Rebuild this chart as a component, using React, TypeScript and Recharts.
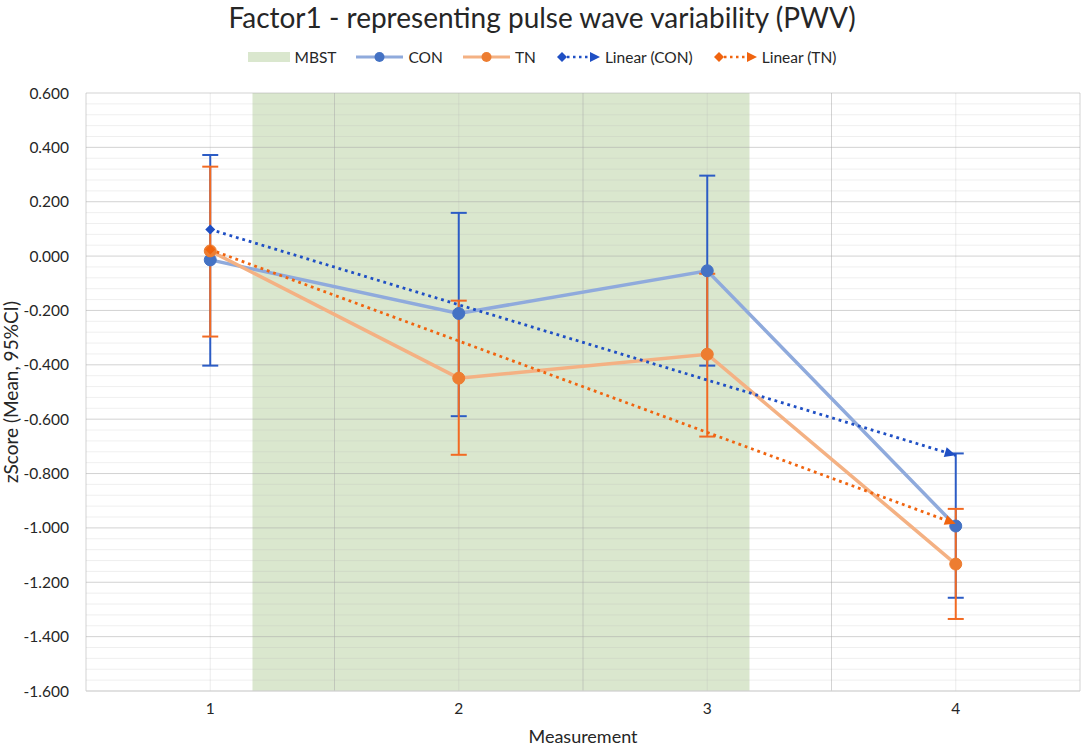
import React from "react";
import {
  LineChart,
  Line,
  XAxis,
  YAxis,
  ErrorBar,
  ReferenceArea,
  ReferenceLine,
} from "recharts";

// values
const measurements = [1, 2, 3, 4];
const conMean = [-0.014, -0.211, -0.054, -0.993];
const conLow = [-0.403, -0.589, -0.403, -1.257];
const conHigh = [0.372, 0.159, 0.296, -0.726];
const tnMean = [0.019, -0.449, -0.361, -1.133];
const tnLow = [-0.296, -0.731, -0.664, -1.335];
const tnHigh = [0.329, -0.164, -0.065, -0.93];

// trend lines: start (measurement 1) and end (measurement 4)
const trendX = [1, 4];
const linearCon = [0.098, -0.733];
const linearTn = [0.024, -0.985];

// MBST shaded span on the measurement axis
const mbstSpan = [1.17, 3.17];

const yTicks = [0.6, 0.4, 0.2, 0, -0.2, -0.4, -0.6, -0.8, -1, -1.2, -1.4, -1.6];
const xBorders = [0.5, 1.5, 2.5, 3.5, 4.5];

const FONT = "Lato, 'Open Sans', sans-serif";
const GREEN = "#DAE7CE";
const CON_LINE = "#8FAADC";
const CON_DOT = "#4472C4";
const CON_ERR = "#2C5CC5";
const CON_TREND = "#1F4FC4";
const TN_LINE = "#F4B183";
const TN_DOT = "#ED7D31";
const TN_ERR = "#F26A22";
const TN_TREND = "#F0640F";

const data = measurements.map((m, i) => ({
  x: m,
  con: conMean[i],
  conErr: [conMean[i] - conLow[i], conHigh[i] - conMean[i]],
  tn: tnMean[i],
  tnErr: [tnMean[i] - tnLow[i], tnHigh[i] - tnMean[i]],
}));

const conTrendData = trendX.map((x, i) => ({ x, v: linearCon[i] }));
const tnTrendData = trendX.map((x, i) => ({ x, v: linearTn[i] }));

// minor gridlines every 0.04
const minorTicks: number[] = [];
for (let i = 0; i <= 55; i++) {
  const v = Math.round((-1.6 + i * 0.04) * 1000) / 1000;
  if (Math.round(v * 1000) % 200 !== 0) minorTicks.push(v);
}

function trendDot(color: string) {
  return (props: any) => {
    const { cx, cy, index, points } = props;
    if (cx == null || cy == null) return <g key={index} />;
    if (index === 0) {
      const s = 5;
      return (
        <path
          key={index}
          d={`M${cx},${cy - s}L${cx + s},${cy}L${cx},${cy + s}L${cx - s},${cy}Z`}
          fill={color}
        />
      );
    }
    const prev = points && points[index - 1];
    const ang = prev ? Math.atan2(cy - prev.y, cx - prev.x) : 0;
    const deg = (ang * 180) / Math.PI;
    return (
      <path
        key={index}
        d={`M${cx},${cy}L${cx - 11},${cy - 5}L${cx - 11},${cy + 5}Z`}
        fill={color}
        transform={`rotate(${deg} ${cx} ${cy})`}
      />
    );
  };
}

function LegendIcon({ kind, line, dot }: { kind: string; line: string; dot: string }) {
  if (kind === "area") {
    return (
      <svg width={42} height={12}>
        <rect x={0} y={1} width={42} height={10} fill={GREEN} />
      </svg>
    );
  }
  if (kind === "line") {
    return (
      <svg width={47} height={12}>
        <line x1={0} y1={6} x2={47} y2={6} stroke={line} strokeWidth={3} />
        <circle cx={23.5} cy={6} r={5} fill={dot} />
      </svg>
    );
  }
  return (
    <svg width={44} height={12}>
      <path d="M1,6L6,1L11,6L6,11Z" fill={dot} />
      <line x1={11} y1={6} x2={35} y2={6} stroke={dot} strokeWidth={2.5} strokeDasharray="2.5 3.5" />
      <path d="M44,6L34,1L34,11Z" fill={dot} />
    </svg>
  );
}

const legendItems = [
  { label: "MBST", kind: "area", line: GREEN, dot: GREEN },
  { label: "CON", kind: "line", line: CON_LINE, dot: CON_DOT },
  { label: "TN", kind: "line", line: TN_LINE, dot: TN_DOT },
  { label: "Linear (CON)", kind: "trend", line: CON_TREND, dot: CON_TREND },
  { label: "Linear (TN)", kind: "trend", line: TN_TREND, dot: TN_TREND },
];

const YLabel = (props: any) => {
  const { viewBox } = props;
  const x = viewBox.x - 20;
  const y = viewBox.y + viewBox.height / 2;
  return (
    <text
      x={x}
      y={y}
      transform={`rotate(-90 ${x} ${y})`}
      textAnchor="middle"
      dominantBaseline="central"
      fontSize={19}
      fill="#262626"
      fontFamily={FONT}
    >
      zScore (Mean, 95%CI)
    </text>
  );
};

export default function App() {
  return (
    <div
      style={{
        position: "absolute",
        left: 0,
        top: 0,
        width: 1084,
        height: 748,
        background: "#fff",
        fontFamily: FONT,
      }}
    >
      <div
        style={{
          position: "absolute",
          top: 0,
          left: 0,
          width: 1084,
          textAlign: "center",
          fontSize: 28,
          color: "#262626",
        }}
      >
        Factor1 - representing pulse wave variability (PWV)
      </div>
      <div
        style={{
          position: "absolute",
          top: 48,
          left: 0,
          width: 1084,
          display: "flex",
          justifyContent: "center",
          gap: 20,
          fontSize: 15.5,
          color: "#262626",
        }}
      >
        {legendItems.map((it) => (
          <div key={it.label} style={{ display: "flex", alignItems: "center", gap: 5 }}>
            <LegendIcon kind={it.kind} line={it.line} dot={it.dot} />
            <span>{it.label}</span>
          </div>
        ))}
      </div>
      <LineChart
        width={1084}
        height={748}
        data={data}
        margin={{ top: 93, right: 4, bottom: 27, left: 30 }}
        style={{ fontFamily: FONT }}
      >
        <XAxis
          type="number"
          dataKey="x"
          domain={[0.5, 4.5]}
          ticks={measurements}
          axisLine={{ stroke: "#D9D9D9" }}
          tickLine={false}
          tick={{ fill: "#262626", fontSize: 15.5 }}
          tickMargin={6}
          height={30}
          label={{
            value: "Measurement",
            position: "bottom",
            offset: 9,
            fontSize: 18,
            fill: "#262626",
          }}
        />
        <YAxis
          type="number"
          domain={[-1.6, 0.6]}
          ticks={yTicks}
          width={56}
          axisLine={false}
          tickLine={false}
          tickSize={0}
          tickMargin={17}
          tick={{ fill: "#262626", fontSize: 15.5 }}
          tickFormatter={(v: number) => v.toFixed(3)}
          label={<YLabel />}
        />
        <ReferenceArea
          x1={mbstSpan[0]}
          x2={mbstSpan[1]}
          y1={-1.6}
          y2={0.6}
          fill={GREEN}
          fillOpacity={1}
          stroke="none"
        />
        {minorTicks.map((v) => (
          <ReferenceLine key={"mn" + v} y={v} stroke="#B8B8B8" strokeOpacity={0.22} />
        ))}
        {measurements.map((v) => (
          <ReferenceLine key={"mv" + v} x={v} stroke="#B8B8B8" strokeOpacity={0.25} />
        ))}
        {yTicks.map((v) => (
          <ReferenceLine key={"mj" + v} y={v} stroke="#A8A8A8" strokeOpacity={0.5} />
        ))}
        {xBorders.map((v) => (
          <ReferenceLine key={"xb" + v} x={v} stroke="#A8A8A8" strokeOpacity={0.5} />
        ))}
        <Line
          dataKey="con"
          stroke={CON_LINE}
          strokeWidth={3.5}
          dot={{ r: 6, fill: CON_DOT, stroke: CON_DOT, strokeWidth: 1 }}
          isAnimationActive={false}
        >
          <ErrorBar dataKey="conErr" direction="y" width={8} stroke={CON_ERR} strokeWidth={2} />
        </Line>
        <Line
          dataKey="tn"
          stroke={TN_LINE}
          strokeWidth={3.5}
          dot={{ r: 6, fill: TN_DOT, stroke: TN_DOT, strokeWidth: 1 }}
          isAnimationActive={false}
        >
          <ErrorBar dataKey="tnErr" direction="y" width={8} stroke={TN_ERR} strokeWidth={2} />
        </Line>
        <Line
          data={conTrendData}
          dataKey="v"
          stroke={CON_TREND}
          strokeWidth={2.8}
          strokeDasharray="2.8 3.9"
          dot={trendDot(CON_TREND)}
          isAnimationActive={false}
        />
        <Line
          data={tnTrendData}
          dataKey="v"
          stroke={TN_TREND}
          strokeWidth={2.8}
          strokeDasharray="2.8 3.9"
          dot={trendDot(TN_TREND)}
          isAnimationActive={false}
        />
      </LineChart>
    </div>
  );
}
